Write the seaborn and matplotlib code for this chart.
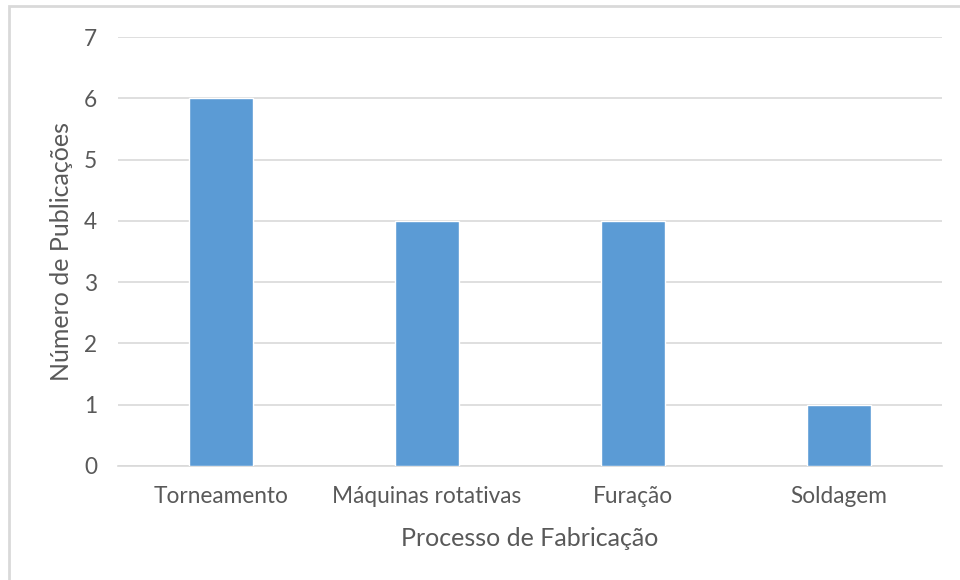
import matplotlib
matplotlib.use("Agg")
import matplotlib.pyplot as plt
import seaborn as sns
import pandas as pd
from matplotlib.patches import Rectangle

categories = ["Torneamento", "Máquinas rotativas", "Furação", "Soldagem"]
publications = [6, 4, 4, 1]
y_ticks = [0, 1, 2, 3, 4, 5, 6, 7]

df = pd.DataFrame({"Processo": categories, "Publicações": publications})

sns.set_theme(style="white")
plt.rcParams["font.family"] = ["Lato", "DejaVu Sans"]

TEXT = "#595959"
GRID = "#D9D9D9"
BAR = "#5B9BD5"

fig = plt.figure(figsize=(9.6, 5.8), dpi=100)
ax = fig.add_axes([118 / 960, 1 - 466 / 580, 824 / 960, 429 / 580])

sns.barplot(data=df, x="Processo", y="Publicações", color=BAR, width=0.31,
            saturation=1, ax=ax, zorder=3)

ax.set_ylim(0, 7)
ax.set_xlim(-0.5, len(categories) - 0.5)
ax.set_yticks(y_ticks)
ax.yaxis.grid(True, color=GRID, linewidth=1.2, zorder=0)
ax.set_axisbelow(True)
for side in ["top", "right", "left"]:
    ax.spines[side].set_visible(False)
ax.spines["bottom"].set_color(GRID)
ax.spines["bottom"].set_linewidth(1.2)
ax.tick_params(axis="both", length=0, labelsize=16.3, labelcolor=TEXT)
ax.tick_params(axis="y", pad=15)
ax.tick_params(axis="x", pad=14.5)

ax.set_xlabel("Processo de Fabricação", fontsize=18, color=TEXT, labelpad=14.5)
ax.set_ylabel("Número de Publicações", fontsize=18, color=TEXT, labelpad=8)

# Light frame around the chart area
fig.patches.append(Rectangle((9 / 960, -0.1), 1.2, 1 - 6 / 580 + 0.1,
                             transform=fig.transFigure, fill=False,
                             edgecolor=GRID, linewidth=2, zorder=0))

fig.savefig("out.png", dpi=100, facecolor="white")
